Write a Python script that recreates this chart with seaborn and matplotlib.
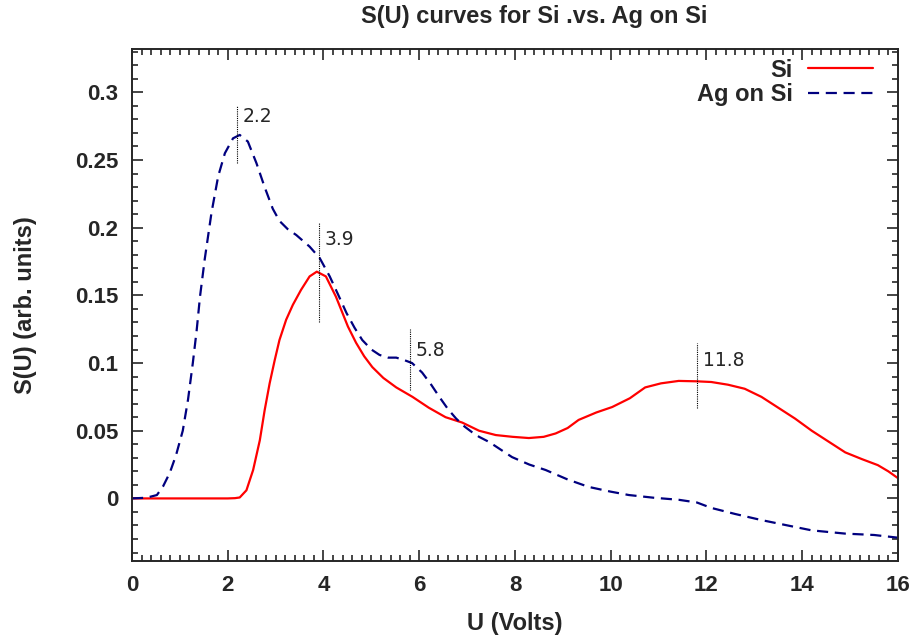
import numpy as np
import pandas as pd
import seaborn as sns
import matplotlib.pyplot as plt
from matplotlib.ticker import MultipleLocator

# valeurs
si_u = [0.0, 1.0, 2.0, 2.15, 2.25, 2.39, 2.53, 2.67, 2.77, 2.875, 2.98, 3.08, 3.22,
        3.36, 3.53, 3.71, 3.86, 4.05, 4.26, 4.51, 4.68, 4.85, 5.02,
        5.25, 5.52, 5.86, 6.2, 6.55, 6.9, 7.25, 7.6, 7.95, 8.29, 8.6, 8.85, 9.1,
        9.33, 9.7, 10.03, 10.4, 10.72, 11.05, 11.42, 11.8, 12.1, 12.45, 12.8,
        13.15, 13.5, 13.85, 14.2, 14.55, 14.9, 15.25, 15.58, 15.8, 16.0]
si_s = [0.0, 0.0, 0.0, 0.0002, 0.0007, 0.006, 0.021, 0.043, 0.065, 0.085, 0.102,
        0.117, 0.132, 0.143, 0.154, 0.164, 0.1675, 0.164, 0.149, 0.127, 0.115,
        0.105, 0.097, 0.089, 0.082, 0.075, 0.067, 0.060,
        0.056, 0.050, 0.0468, 0.0455, 0.0446, 0.0455, 0.048, 0.052, 0.058,
        0.0635, 0.0675, 0.074, 0.082, 0.085, 0.0868, 0.0865, 0.086, 0.084,
        0.081, 0.075, 0.067, 0.059, 0.050, 0.042, 0.034, 0.029, 0.0246, 0.020,
        0.015]

ag_u = [0.0, 0.3, 0.52, 0.65, 0.79, 0.92, 1.06, 1.17, 1.27, 1.35, 1.42, 1.52, 1.66,
        1.80, 1.94, 2.11, 2.25, 2.42, 2.60, 2.77, 2.94, 3.08, 3.25, 3.43, 3.71, 3.92,
        4.13, 4.3, 4.48, 4.65, 4.81, 5.0, 5.17, 5.35, 5.52, 5.7, 5.85, 6.06,
        6.25, 6.42, 6.6, 6.77, 6.95, 7.1, 7.25, 7.46, 7.94, 8.3, 8.64, 9.1,
        9.54, 10.0, 10.38, 10.9, 11.42, 11.8, 12.1, 12.6, 13.15, 13.7, 14.2,
        14.9, 15.5, 16.0]
ag_s = [0.0, 0.0005, 0.0025, 0.009, 0.019, 0.032, 0.050, 0.073, 0.100, 0.124,
        0.149, 0.177, 0.211, 0.238, 0.255, 0.266, 0.2685, 0.2636, 0.2476, 0.230,
        0.214, 0.205, 0.199, 0.1946, 0.186, 0.1776, 0.164, 0.151, 0.137, 0.126, 0.117,
        0.110, 0.106, 0.104, 0.104, 0.102, 0.100, 0.093, 0.084, 0.075, 0.066,
        0.059, 0.053, 0.049, 0.0455, 0.0417, 0.0305, 0.025, 0.021, 0.014,
        0.0085, 0.005, 0.0025, 0.0005, -0.001, -0.003, -0.007, -0.0115, -0.016,
        -0.020, -0.0236, -0.026, -0.027, -0.029]

peak_u = [2.2, 3.9, 5.8, 11.8]
peak_lo = [0.248, 0.130, 0.080, 0.067]
peak_hi = [0.290, 0.204, 0.125, 0.115]
peak_txt_y = [0.282, 0.191, 0.109, 0.102]

df_si = pd.DataFrame({"U": si_u, "S": si_s})
df_ag = pd.DataFrame({"U": ag_u, "S": ag_s})

sns.set_style("ticks")
plt.rcParams["font.family"] = ["Liberation Sans", "DejaVu Sans"]

fig = plt.figure(figsize=(9.2, 6.36), dpi=100)
ax = fig.add_axes([0.1435, 0.1184, 0.8325, 0.8046])

sns.lineplot(data=df_si, x="U", y="S", ax=ax, color="#ff0000", lw=1.6,
             label="Si", sort=False)
sns.lineplot(data=df_ag, x="U", y="S", ax=ax, color="#00007f", lw=1.6,
             label="Ag on Si", sort=False)
ax.lines[1].set_dashes([5, 3])

for u, lo, hi, ty in zip(peak_u, peak_lo, peak_hi, peak_txt_y):
    ax.vlines(u, lo, hi, colors="black", linestyles=(0, (1, 1)), lw=0.8)
    ax.text(u + 0.12, ty, f"{u:.1f}", fontsize=13.5, family="DejaVu Sans",
            va="center", ha="left")

ax.set_xlim(0, 16)
ax.set_ylim(-0.046, 0.332)
ax.xaxis.set_major_locator(MultipleLocator(2))
ax.xaxis.set_minor_locator(MultipleLocator(0.2))
ax.yaxis.set_minor_locator(MultipleLocator(0.01))
ax.set_yticks([0, 0.05, 0.1, 0.15, 0.2, 0.25, 0.3])
ax.set_yticklabels(["0", "0.05", "0.1", "0.15", "0.2", "0.25", "0.3"])
ax.tick_params(which="both", direction="in", top=True, right=True, width=1.2)
ax.tick_params(which="major", length=8, labelsize=16, pad=10)
ax.tick_params(which="minor", length=4)
for lab in ax.get_xticklabels() + ax.get_yticklabels():
    lab.set_fontweight("bold")
for sp in ax.spines.values():
    sp.set_linewidth(1.4)

ax.set_xlabel("U (Volts)", fontsize=17, fontweight="bold", labelpad=12)
ax.set_ylabel("S(U) (arb. units)", fontsize=17, fontweight="bold", labelpad=27)
fig.text(534 / 920, 1 - 16 / 636, "S(U) curves for Si .vs. Ag on Si",
         fontsize=17, fontweight="bold", ha="center", va="center")

leg = ax.legend(loc="upper right", bbox_to_anchor=(0.967, 0.981), frameon=False,
                markerfirst=False, handlelength=2.75,
                prop={"weight": "bold", "size": 17}, borderpad=0,
                labelspacing=0.05, borderaxespad=0, handletextpad=0.63)

fig.savefig("out.png", dpi=100)
